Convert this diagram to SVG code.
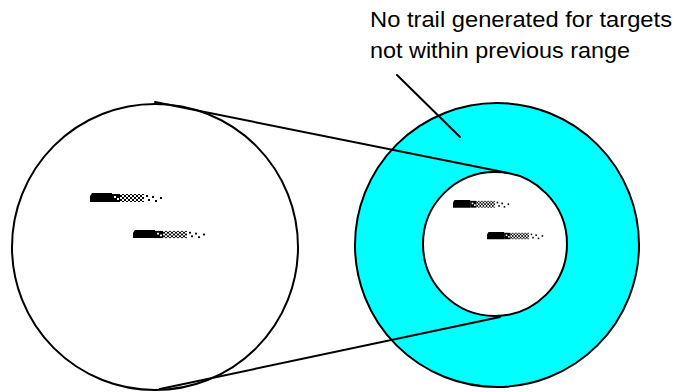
<svg xmlns="http://www.w3.org/2000/svg" width="682" height="392" viewBox="0 0 682 392">
<style>
.ring{stroke:#000;stroke-width:2;}
.ln{stroke:#000;stroke-width:2;fill:none;stroke-linecap:round;}
.lbl{font-family:"Liberation Sans",Arial,sans-serif;font-size:22px;fill:#000;}
</style>
<defs>
<pattern id="dither" width="4" height="4" patternUnits="userSpaceOnUse">
<rect x="0" y="0" width="2" height="2" fill="#000"/>
<rect x="2" y="2" width="2" height="2" fill="#000"/>
</pattern>
<g id="trail">
<polygon points="2,0 22,0 22,9 0,9 0,3" fill="#000"/>
<rect x="22" y="1" width="8" height="8" fill="#000"/>
<rect x="24" y="3" width="2" height="2" fill="#fff"/>
<rect x="27" y="5" width="2" height="2" fill="#fff"/>
<rect x="30" y="1" width="24" height="8" fill="url(#dither)"/>
<rect x="56" y="2" width="2" height="2" fill="#000"/>
<rect x="58" y="6" width="2" height="2" fill="#000"/>
<rect x="62" y="3" width="2" height="2" fill="#000"/>
<rect x="65" y="7" width="2" height="2" fill="#000"/>
<rect x="70" y="4" width="2" height="2" fill="#000"/>
</g>
</defs>
<rect width="682" height="392" fill="#fff"/>
<g id="previous-range">
<circle class="ring" cx="155" cy="247" r="143" fill="#fff"/>
<use href="#trail" transform="translate(90,193)"/>
<use href="#trail" transform="translate(133,230) scale(1,0.9)"/>
</g>
<g id="current-range">
<circle class="ring" cx="497" cy="245" r="142" fill="#00ffff"/>
<circle class="ring" cx="495" cy="244" r="72" fill="#fff"/>
<use href="#trail" transform="translate(453,200) scale(0.78,0.85)"/>
<use href="#trail" transform="translate(487,232) scale(0.78,0.8)"/>
</g>
<g id="label">
<text class="lbl" x="370" y="27" textLength="302" lengthAdjust="spacingAndGlyphs">No trail generated for targets</text>
<text class="lbl" x="370" y="58" textLength="260" lengthAdjust="spacingAndGlyphs">not within previous range</text>
</g>
<g id="connectors">
<line class="ln" x1="155" y1="102" x2="508" y2="173"/>
<line class="ln" x1="160" y1="389" x2="500" y2="317"/>
<line class="ln" x1="397" y1="75" x2="460" y2="137"/>
</g>
</svg>
